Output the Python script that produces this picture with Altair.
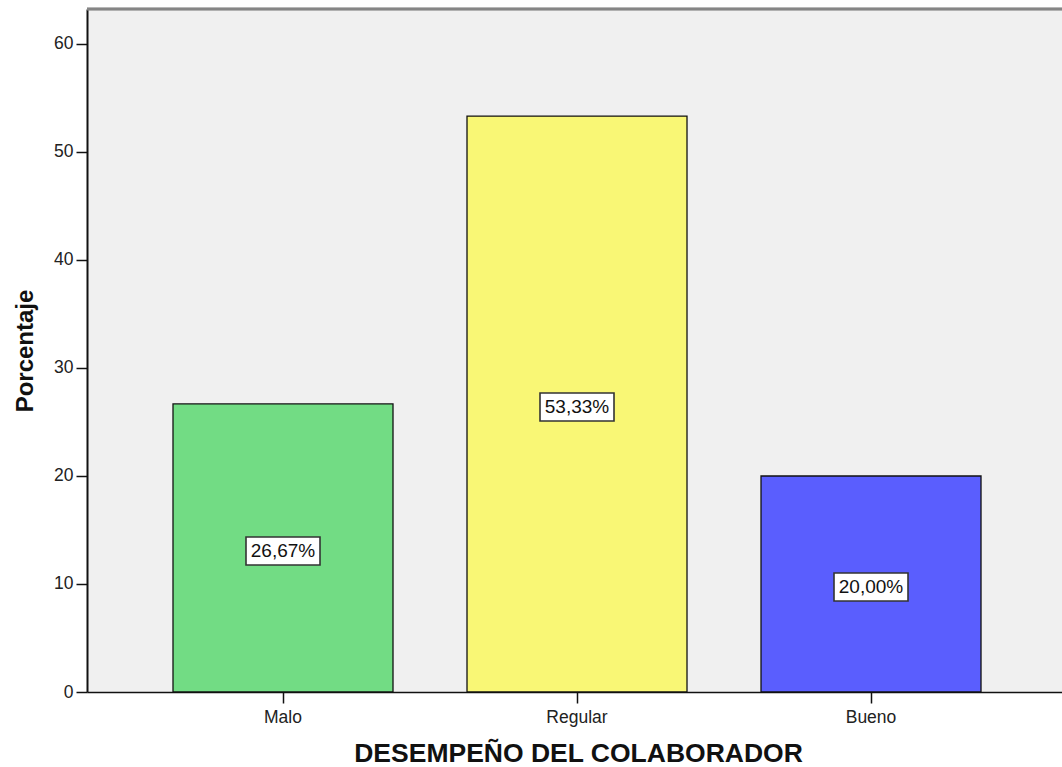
import altair as alt
import pandas as pd

# Performance rating of collaborators (percentages)
categorias = ["Malo", "Regular", "Bueno"]
porcentajes = [26.67, 53.33, 20.00]
etiquetas = ["26,67%", "53,33%", "20,00%"]
colores = ["#72DC84", "#F9F775", "#5A5EFE"]

df = pd.DataFrame({
    "categoria": categorias,
    "porcentaje": porcentajes,
    "etiqueta": etiquetas,
})
df["medio"] = df["porcentaje"] / 2

FONT = "Liberation Sans"
W, H = 975, 683

x_scale = alt.Scale(domain=categorias, paddingInner=0.2517, paddingOuter=0.284, align=0.515)
y_scale = alt.Scale(domain=[0, 63.24], nice=False, zero=True)

x_enc = alt.X(
    "categoria:N",
    scale=x_scale,
    sort=categorias,
    axis=alt.Axis(
        title="DESEMPEÑO DEL COLABORADOR",
        labelAngle=0,
        labelFont=FONT,
        labelFontSize=17.5,
        labelColor="#222222",
        labelPadding=5,
        tickSize=11,
        tickColor="#111111",
        tickWidth=1.5,
        domainColor="#111111",
        domainWidth=1.5,
        titleFont=FONT,
        titleFontSize=26.5,
        titleFontWeight="bold",
        titleColor="#111111",
        titleBaseline="alphabetic",
        titleX=491,
        titleY=69,
        grid=False,
    ),
)

bars = alt.Chart(df).mark_bar(stroke="#111111", strokeWidth=1.3).encode(
    x=x_enc,
    y=alt.Y(
        "porcentaje:Q",
        scale=y_scale,
        axis=alt.Axis(
            title="Porcentaje",
            values=[0, 10, 20, 30, 40, 50, 60],
            format="d",
            labelFont=FONT,
            labelFontSize=17.5,
            labelColor="#222222",
            labelPadding=3,
            tickSize=11,
            tickColor="#111111",
            tickWidth=1.5,
            domainColor="#111111",
            domainWidth=2,
            titleFont=FONT,
            titleFontSize=24,
            titleFontWeight="bold",
            titleColor="#111111",
            titleBaseline="alphabetic",
            titleX=-55,
            grid=False,
        ),
    ),
    color=alt.Color("categoria:N", scale=alt.Scale(domain=categorias, range=colores), legend=None),
)

# white label boxes centred on each bar
cajas = alt.Chart(df).mark_point(
    shape="M-1,-0.378H1V0.378H-1Z",
    size=74 * 74,
    filled=True,
    fill="white",
    fillOpacity=1,
    stroke="#333333",
    strokeWidth=1.6,
    opacity=1,
    yOffset=3,
).encode(
    x=alt.X("categoria:N", scale=x_scale, sort=categorias),
    y=alt.Y("medio:Q", scale=y_scale),
)

textos = alt.Chart(df).mark_text(
    font=FONT,
    fontSize=19,
    color="#111111",
    baseline="middle",
    align="center",
    yOffset=3,
).encode(
    x=alt.X("categoria:N", scale=x_scale, sort=categorias),
    y=alt.Y("medio:Q", scale=y_scale),
    text="etiqueta:N",
)

borde_superior = alt.Chart(df).mark_rule(color="#858585", strokeWidth=2.5).encode(
    x=alt.value(0), x2=alt.value(W), y=alt.value(0)
)

chart = (
    alt.layer(bars, cajas, textos, borde_superior)
    .properties(
        width=W,
        height=H,
        background="white",
        padding={"left": 87, "top": 9, "right": 0, "bottom": 75},
        autosize=alt.AutoSizeParams(type="none"),
    )
    .configure_view(fill="#F0F0F0", stroke=None)
)

chart.save("out.html", embed_options={"renderer": "svg", "actions": False})
